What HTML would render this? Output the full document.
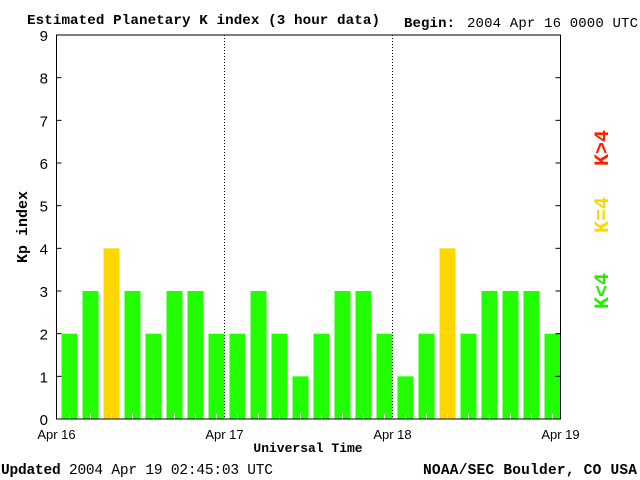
<!DOCTYPE html>
<html><head><meta charset="utf-8"><style>
body{margin:0;background:#fff;width:640px;height:480px;overflow:hidden}
svg{display:block}
.s{font-family:"Liberation Sans",sans-serif}
.m{font-family:"Liberation Mono",monospace}
</style></head><body>
<svg id="c" width="640" height="480">
<text x="27" y="24" class="m" font-size="14.2" font-weight="bold" textLength="353">Estimated Planetary K index (3 hour data)</text>
<text x="404" y="27" class="m" font-size="14" font-weight="bold" textLength="51">Begin:</text>
<text x="467" y="27" class="m" font-size="14" textLength="171">2004 Apr 16 0000 UTC</text>
<text x="1" y="474" class="m" font-size="14.5" textLength="272"><tspan font-weight="bold">Updated</tspan> 2004 Apr 19 02:45:03 UTC</text>
<text x="423" y="474" class="m" font-size="14.5" font-weight="bold" textLength="214">NOAA/SEC Boulder, CO USA</text>
<text transform="translate(27,227) rotate(-90)" text-anchor="middle" class="m" font-size="15" font-weight="bold">Kp index</text>
<text x="308" y="452" text-anchor="middle" class="m" font-size="13" font-weight="bold">Universal Time</text>
<text transform="translate(608,148) rotate(-90)" text-anchor="middle" class="m" font-size="20" font-weight="bold" fill="#ff2000">K&gt;4</text>
<text transform="translate(608,215) rotate(-90)" text-anchor="middle" class="m" font-size="20" font-weight="bold" fill="#ffd700">K=4</text>
<text transform="translate(608,291) rotate(-90)" text-anchor="middle" class="m" font-size="20" font-weight="bold" fill="#22ee00">K&lt;4</text>
<g id="g"></g>
</svg>
<script>
const kpValues=[2,3,4,3,2,3,3,2,2,3,2,1,2,3,3,2,1,2,4,2,3,3,3,2];
const yTicks=[0,1,2,3,4,5,6,7,8,9];
const dayLabels=["Apr 16","Apr 17","Apr 18","Apr 19"];
const L=56.5,R=560.5,T=35,B=419;
const NS="http://www.w3.org/2000/svg";
const g=document.getElementById('g');
const ys=v=>B-(B-T)*v/9;
const xs=i=>L+(R-L)*i/kpValues.length;
function mk(t,a){const e=document.createElementNS(NS,t);for(const k in a)e.setAttribute(k,a[k]);g.appendChild(e);return e;}
kpValues.forEach((v,i)=>{
 const col=v>4?"#ff2000":v==4?"#ffd700":"#22ff00";
 const e=mk('rect',{x:xs(i)+5,y:ys(v),width:16,height:B-ys(v),fill:col});
 
 
 const t=mk('line',{x1:xs(i)+13,x2:xs(i)+13,y1:B,y2:B-5,stroke:"#fff"});
 
 
});
for(let d=1;d<dayLabels.length-1;d++){
 const x=L+(R-L)*d/(dayLabels.length-1);
 const e=mk('line',{x1:x,x2:x,y1:T,y2:B,stroke:"#000","stroke-dasharray":"1,2"});
 
 
}
dayLabels.forEach((s,d)=>{
 const x=L+(R-L)*d/(dayLabels.length-1);
 const e=mk('text',{x:x,y:439,"text-anchor":"middle","font-size":13,class:"s"});
 e.textContent=s;
 
 
});
yTicks.forEach(v=>{
 const e=mk('text',{x:48,y:ys(v)+6,"text-anchor":"end","font-size":15,class:"s"});
 e.textContent=v;
 
 
 const t=mk('line',{x1:L,x2:L+5,y1:ys(v),y2:ys(v),stroke:"#000"});
 
 
 const t2=mk('line',{x1:R,x2:R-5,y1:ys(v),y2:ys(v),stroke:"#000"});
 
 
});
const f=mk('rect',{x:L,y:T,width:R-L,height:B-T,fill:"none",stroke:"#000"});


</script>
</body></html>
